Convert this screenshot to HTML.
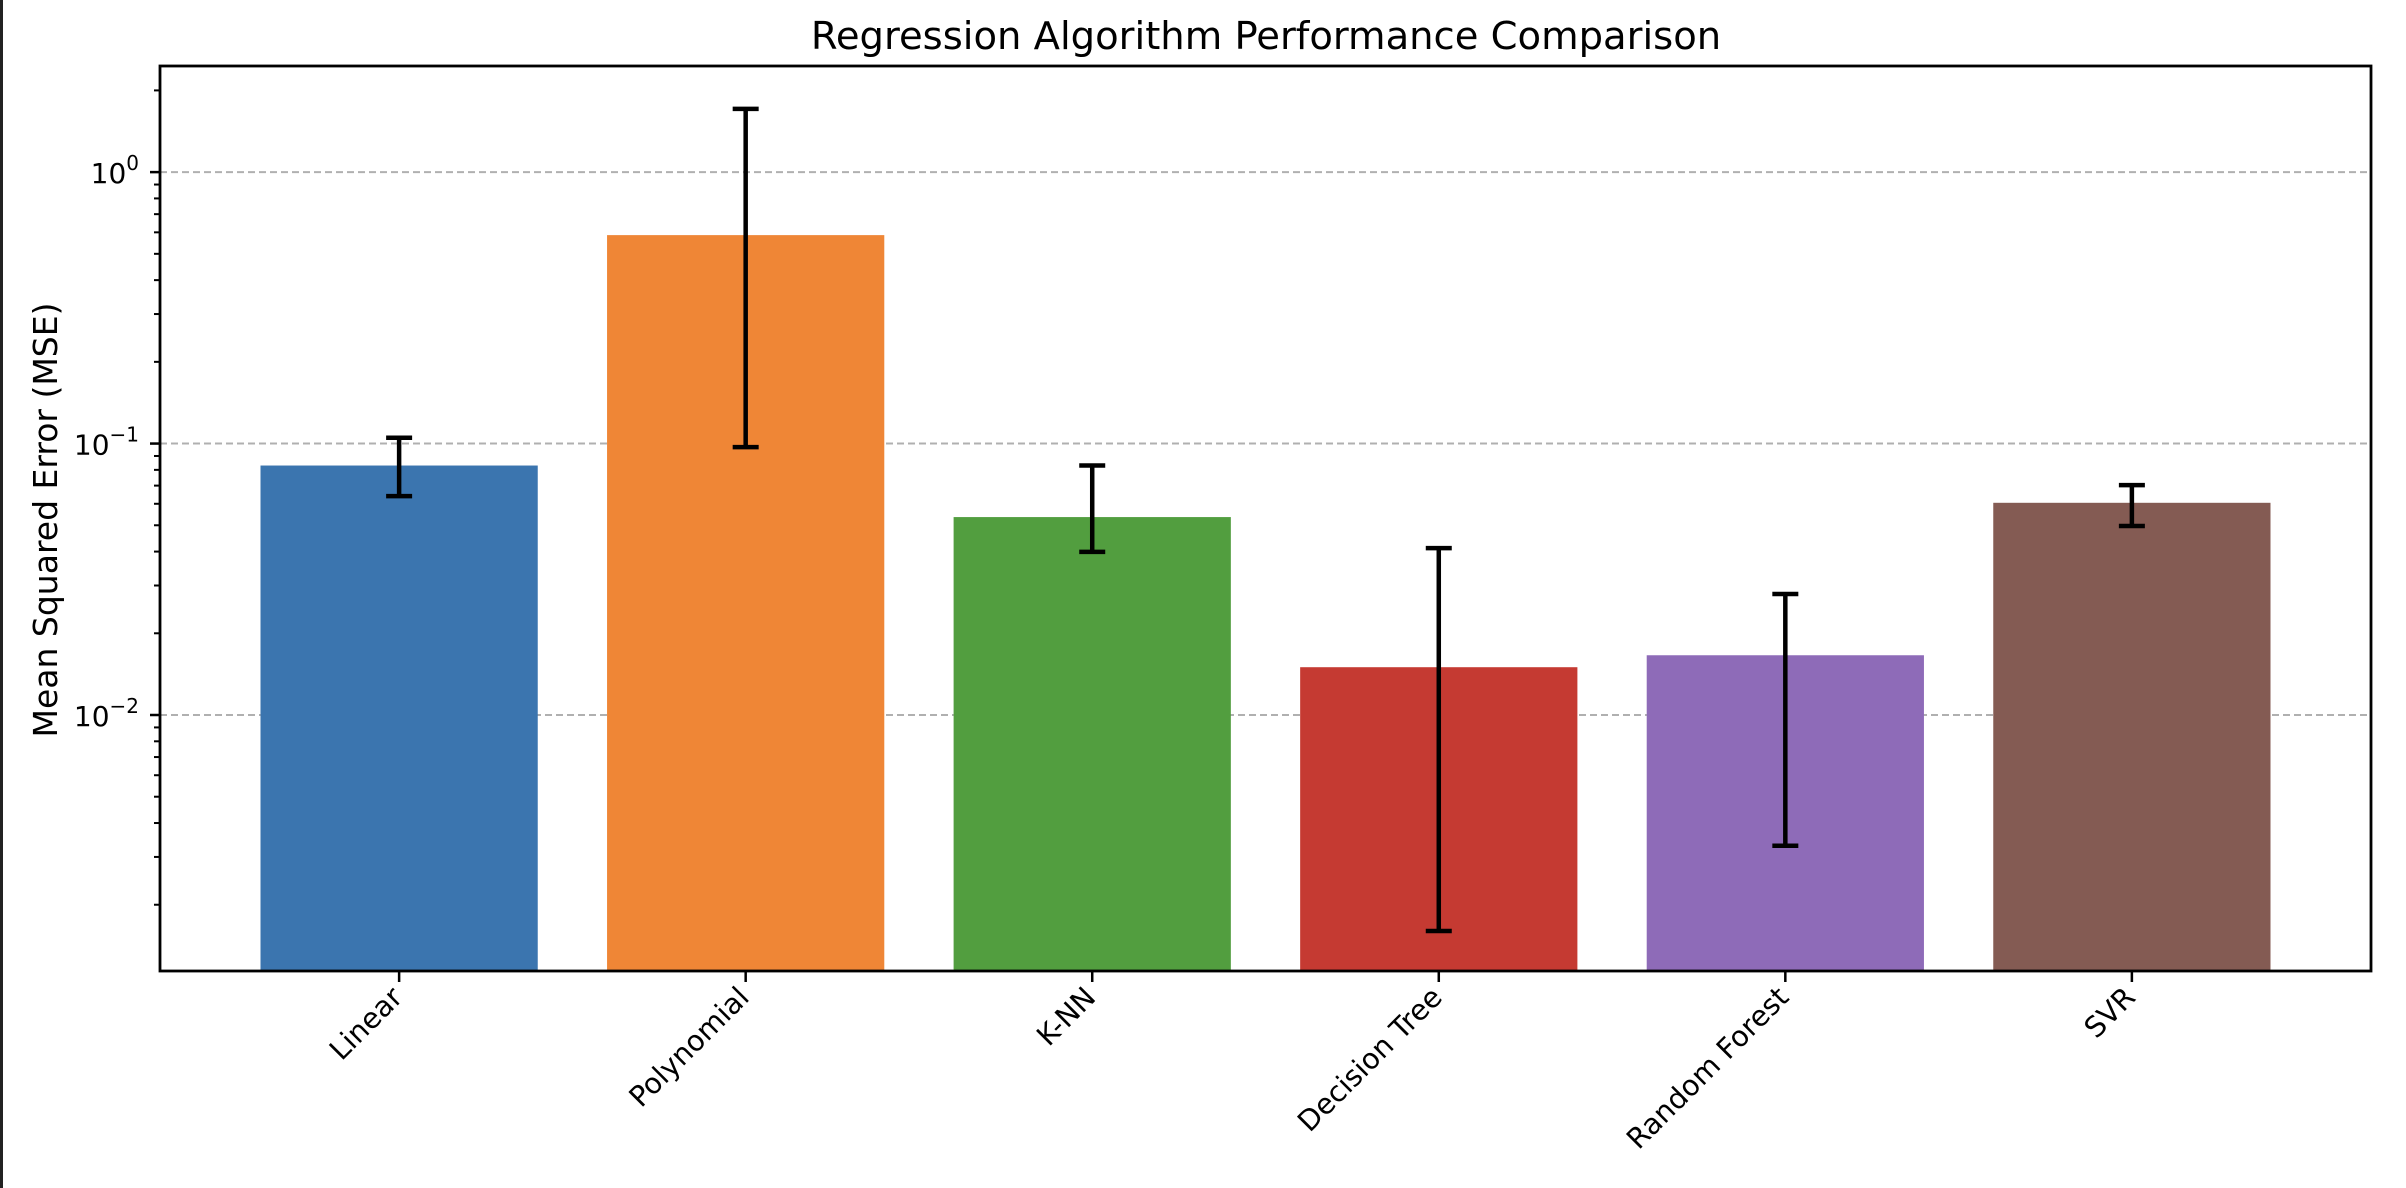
<!DOCTYPE html>
<html><head><meta charset="utf-8"><style>
html,body{margin:0;padding:0;background:#fff;}
svg{display:block;}
text{font-family:"DejaVu Sans","Liberation Sans",sans-serif;fill:#000;}
</style></head><body>
<svg id="chart" width="2406" height="1188" viewBox="0 0 2406 1188" xmlns="http://www.w3.org/2000/svg">
<rect x="0" y="0" width="3" height="1188" fill="#222"/>
<text x="1266" y="49" font-size="38.5" text-anchor="middle">Regression Algorithm Performance Comparison</text>
<text transform="translate(57,520) rotate(-90)" font-size="33" text-anchor="middle">Mean Squared Error (MSE)</text>
<g id="grid"></g><g id="bars"></g><g id="errs"></g><g id="axes"></g>
</svg>
<script>
const categories = ["Linear","Polynomial","K-NN","Decision Tree","Random Forest","SVR"];
const values = [0.083, 0.586, 0.0536, 0.0150, 0.0166, 0.0605];
const errLow = [0.064, 0.097, 0.0399, 0.0016, 0.0033, 0.0497];
const errHigh = [0.105, 1.71, 0.083, 0.0412, 0.0279, 0.0703];
const colors = ["#3b75af","#ef8636","#529e3f","#c53a32","#8e6bb8","#845b53"];
const majorTicks = [1, 0.1, 0.01];
const majorLabels = [["10","0"],["10","\u22121"],["10","\u22122"]];

const NS="http://www.w3.org/2000/svg";
const L=160,R=2371,T=66,B=971;
const yMin=Math.log10(0.00114), yMax=Math.log10(2.46);
const xMin=-0.69, xMax=5.69;
function y(v){return B-(Math.log10(v)-yMin)/(yMax-yMin)*(B-T);}
function x(i){return L+(i-xMin)/(xMax-xMin)*(R-L);}
const bw=0.8*(x(1)-x(0));
function mk(tag,attrs,parent){const e=document.createElementNS(NS,tag);for(const k in attrs)e.setAttribute(k,attrs[k]);document.getElementById(parent).appendChild(e);return e;}

majorTicks.forEach((t,i)=>{
  const g=mk('line',{x1:L,x2:R,y1:y(t),y2:y(t),stroke:'#b0b0b0','stroke-width':2,'stroke-dasharray':'7,4'},'grid');
  
  
});
categories.forEach((c,i)=>{
  const r=mk('rect',{x:x(i)-bw/2,y:y(values[i]),width:bw,height:B-y(values[i]),fill:colors[i]},'bars');
  
  
  const cx=x(i);
  const e1=mk('line',{x1:cx,x2:cx,y1:y(errHigh[i]),y2:y(errLow[i]),stroke:'#000','stroke-width':4.5},'errs');
  
  
  [errHigh[i],errLow[i]].forEach(v=>{
    const cap=mk('line',{x1:cx-13,x2:cx+13,y1:y(v),y2:y(v),stroke:'#000','stroke-width':4.5},'errs');
    
    
  });
  mk('line',{x1:cx,x2:cx,y1:B,y2:B+11,stroke:'#000','stroke-width':2.5},'axes');
  const t=mk('text',{'font-size':28.5,'text-anchor':'end',transform:`translate(${cx+5},${B+28}) rotate(-45)`},'axes');
  t.textContent=c;
  
  
});
for(let d=-3; d<=0; d++){
  for(let m=2;m<=9;m++){
    const v=m*Math.pow(10,d);
    if(Math.log10(v)<yMin||Math.log10(v)>yMax) continue;
    mk('line',{x1:L-6,x2:L,y1:y(v),y2:y(v),stroke:'#000','stroke-width':2},'axes');
  }
}
majorTicks.forEach((t,i)=>{
  mk('line',{x1:L-10,x2:L,y1:y(t),y2:y(t),stroke:'#000','stroke-width':2.5},'axes');
  const tx=mk('text',{x:139,y:y(t)+11,'font-size':28,'text-anchor':'end'},'axes');
  
  
  const a=document.createElementNS(NS,'tspan');a.textContent=majorLabels[i][0];tx.appendChild(a);
  const b=document.createElementNS(NS,'tspan');b.setAttribute('dy','-13');b.setAttribute('font-size','20');b.textContent=majorLabels[i][1];tx.appendChild(b);
});
const fr=mk('rect',{x:L,y:T,width:R-L,height:B-T,fill:'none',stroke:'#000','stroke-width':2.8},'axes');


</script>
</body></html>
